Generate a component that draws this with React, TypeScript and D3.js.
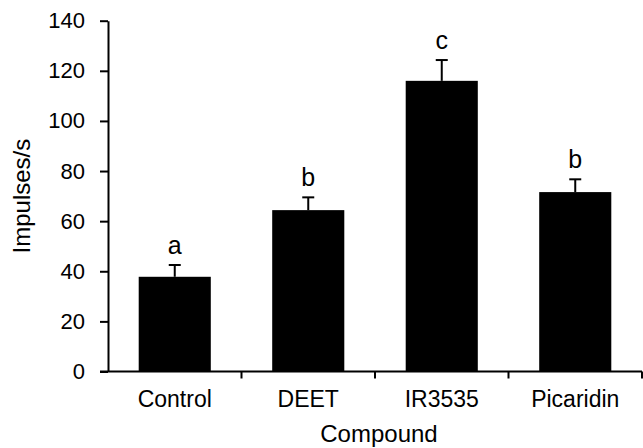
import React, { useRef, useEffect } from "react";
import * as d3 from "d3";

/* data */
const COMPOUNDS = ["Control", "DEET", "IR3535", "Picaridin"];
const MEANS = [37.8, 64.4, 116.0, 71.6];
const ERRORS = [4.7, 5.1, 8.3, 5.1];
const LETTERS = ["a", "b", "c", "b"];
const Y_TICKS = [0, 20, 40, 60, 80, 100, 120, 140];

const FONT = "'Liberation Sans', Arial, sans-serif";

export default function App() {
  const svgRef = useRef<SVGSVGElement>(null);

  useEffect(() => {
    /* ---- layout ---- */
    const W = 643;
    const H = 448;
    const left = 108;
    const right = 642;
    const top = 20.7;
    const bottom = 371.5;

    const rows = COMPOUNDS.map((c, i) => ({
      name: c,
      mean: MEANS[i],
      err: ERRORS[i],
      letter: LETTERS[i],
    }));

    /* ---- scales ---- */
    const x = d3
      .scaleBand<string>()
      .domain(COMPOUNDS)
      .range([left, right])
      .paddingInner(0.46)
      .paddingOuter(0.23);

    const y = d3.scaleLinear().domain([0, 140]).range([bottom, top]);

    const svg = d3
      .select(svgRef.current)
      .attr("width", W)
      .attr("height", H)
      .attr("viewBox", `0 0 ${W} ${H}`)
      .style("font-family", FONT);

    svg.selectAll("*").remove();

    svg
      .append("rect")
      .attr("width", W)
      .attr("height", H)
      .attr("fill", "#fff");

    /* ---- bars ---- */
    svg
      .append("g")
      .selectAll("rect")
      .data(rows)
      .enter()
      .append("rect")
      .attr("x", (d) => x(d.name)!)
      .attr("y", (d) => y(d.mean))
      .attr("width", x.bandwidth())
      .attr("height", (d) => y(0) - y(d.mean))
      .attr("fill", "#000");

    /* ---- error bars (upper only) ---- */
    const eb = svg.append("g").attr("stroke", "#000").attr("stroke-width", 2);
    rows.forEach((d) => {
      const cx = x(d.name)! + x.bandwidth() / 2;
      eb.append("line")
        .attr("x1", cx)
        .attr("x2", cx)
        .attr("y1", y(d.mean))
        .attr("y2", y(d.mean + d.err));
      eb.append("line")
        .attr("x1", cx - 6)
        .attr("x2", cx + 6)
        .attr("y1", y(d.mean + d.err))
        .attr("y2", y(d.mean + d.err));
    });

    /* ---- significance letters ---- */
    svg
      .append("g")
      .selectAll("text")
      .data(rows)
      .enter()
      .append("text")
      .attr("x", (d) => x(d.name)! + x.bandwidth() / 2)
      .attr("y", (d) => y(d.mean + d.err) - 11)
      .attr("text-anchor", "middle")
      .attr("fill", "#000")
      .style("font-size", "25px")
      .text((d) => d.letter);

    /* ---- y axis ---- */
    const yAxis = svg
      .append("g")
      .attr("transform", `translate(${left},0)`)
      .call(
        d3
          .axisLeft(y)
          .tickValues(Y_TICKS)
          .tickSize(8)
          .tickPadding(15)
          .tickSizeOuter(0)
      );
    yAxis.select(".domain").attr("stroke", "#000").attr("stroke-width", 2);
    yAxis.selectAll(".tick line").attr("stroke", "#000").attr("stroke-width", 2);
    yAxis
      .selectAll(".tick text")
      .attr("fill", "#000")
      .style("font-size", "22px")
      .style("font-family", FONT);

    /* ---- x axis: ticks on category boundaries ---- */
    const xg = svg.append("g").attr("stroke", "#000").attr("stroke-width", 2);
    xg.append("line")
      .attr("x1", left)
      .attr("x2", right)
      .attr("y1", y(0))
      .attr("y2", y(0));
    const step = x.step();
    COMPOUNDS.forEach((c) => {
      const bx = x(c)! + x.bandwidth() / 2 + step / 2;
      xg.append("line")
        .attr("x1", bx)
        .attr("x2", bx)
        .attr("y1", y(0))
        .attr("y2", y(0) + 7);
    });
    svg
      .append("line")
      .attr("x1", left - 8)
      .attr("x2", left)
      .attr("y1", y(0))
      .attr("y2", y(0))
      .attr("stroke", "#000")
      .attr("stroke-width", 2);

    svg
      .append("g")
      .selectAll("text")
      .data(COMPOUNDS)
      .enter()
      .append("text")
      .attr("x", (d) => x(d)! + x.bandwidth() / 2)
      .attr("y", 406.5)
      .attr("text-anchor", "middle")
      .attr("fill", "#000")
      .style("font-size", "23px")
      .text((d) => d);

    /* ---- axis titles ---- */
    svg
      .append("text")
      .attr("x", (left + right) / 2 + 4)
      .attr("y", 442)
      .attr("text-anchor", "middle")
      .attr("fill", "#000")
      .style("font-size", "24px")
      .text("Compound");

    svg
      .append("text")
      .attr("transform", `translate(30,${(top + bottom) / 2}) rotate(-90)`)
      .attr("text-anchor", "middle")
      .attr("fill", "#000")
      .style("font-size", "24px")
      .text("Impulses/s");
  }, []);

  return (
    <svg
      ref={svgRef}
      style={{ position: "absolute", left: 0, top: 0, display: "block" }}
    />
  );
}
